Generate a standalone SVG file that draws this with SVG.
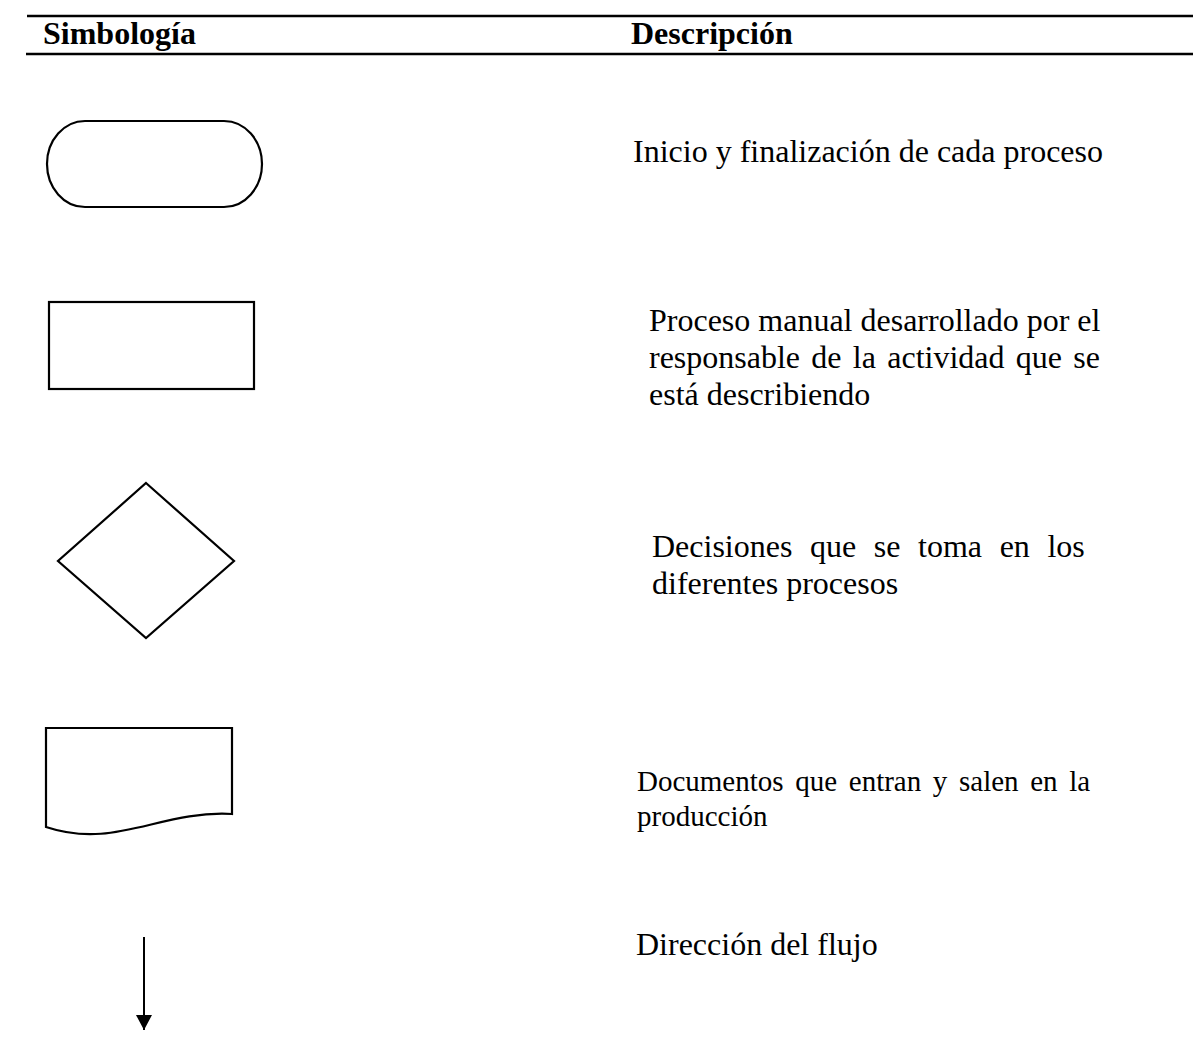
<svg xmlns="http://www.w3.org/2000/svg" width="1193" height="1049" viewBox="0 0 1193 1049">
<style>
.sh{fill:#fff;stroke:#000;stroke-width:2.2}
.hd{font-family:"Liberation Serif","Times New Roman",serif;font-size:32px;font-weight:bold;fill:#000}
.tx{font-family:"Liberation Serif","Times New Roman",serif;font-size:32px;fill:#000}
.tx2{font-family:"Liberation Serif","Times New Roman",serif;font-size:29px;fill:#000}
.rule{stroke:#000;stroke-width:2.5}
</style>
<defs>
<marker id="ah" markerWidth="16" markerHeight="16" refX="15" refY="8" orient="auto" markerUnits="userSpaceOnUse" viewBox="0 0 16 16">
<path d="M0,0 L15,8 L0,16 Z" fill="#000"/>
</marker>
</defs>
<g id="header">
<line class="rule" x1="27" y1="16" x2="1193" y2="16"/>
<line class="rule" x1="26" y1="54" x2="1193" y2="54"/>
<text class="hd" x="43" y="44">Simbología</text>
<text class="hd" x="631" y="44">Descripción</text>
</g>
<g id="terminator">
<rect class="sh" x="47" y="121" width="215" height="86" rx="38" ry="43"/>
<text class="tx" x="633" y="162">Inicio y finalización de cada proceso</text>
</g>
<g id="process">
<rect class="sh" x="49" y="302" width="205" height="87"/>
<text class="tx" x="649" y="331">Proceso manual desarrollado por el</text>
<text class="tx" x="649" y="368" word-spacing="3.3">responsable de la actividad que se</text>
<text class="tx" x="649" y="405">está describiendo</text>
</g>
<g id="decision">
<polygon class="sh" points="146,483 234,561 146,638 58,561"/>
<text class="tx" x="652" y="557" word-spacing="9.6">Decisiones que se toma en los</text>
<text class="tx" x="652" y="594">diferentes procesos</text>
</g>
<g id="document">
<path class="sh" d="M46,728 H232 V814 C160,810 115,850 46,827 Z"/>
<text class="tx2" x="637" y="791" word-spacing="4.4">Documentos que entran y salen en la</text>
<text class="tx2" x="637" y="826">producción</text>
</g>
<g id="flow">
<text class="tx" x="636" y="955">Dirección del flujo</text>
</g>
<g id="connectors">
<line x1="144" y1="937" x2="144" y2="1030" stroke="#000" stroke-width="2" marker-end="url(#ah)"/>
</g>
</svg>
